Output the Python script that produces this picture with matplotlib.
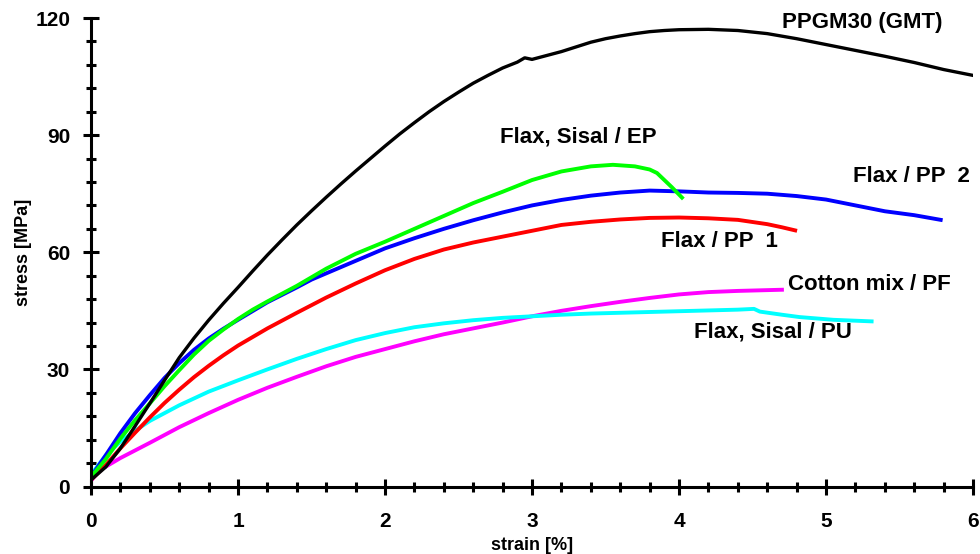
import numpy as np
import matplotlib.pyplot as plt
from matplotlib.ticker import MultipleLocator

plt.rcParams['font.family'] = ['Liberation Sans', 'DejaVu Sans']
plt.rcParams['font.weight'] = 'bold'

# --------- 資料 ---------
ppgm_x = [0.0, 0.1, 0.2, 0.3, 0.4, 0.5, 0.6, 0.7, 0.8, 0.9, 1.0, 1.1, 1.2, 1.3, 1.4, 1.5, 1.6, 1.7, 1.8, 1.9,
          2.0, 2.1, 2.2, 2.3, 2.4, 2.5, 2.6, 2.7, 2.8, 2.9, 2.95, 3.0, 3.1, 3.2, 3.3, 3.4, 3.5, 3.6, 3.7, 3.8,
          3.9, 4.0, 4.2, 4.4, 4.6, 4.8, 5.0, 5.2, 5.4, 5.6, 5.8, 6.0]
ppgm_y = [1.7, 5.0, 9.8, 15.5, 21.3, 27.2, 33.0, 38.0, 42.6, 46.9, 51.0, 55.2, 59.3, 63.2, 67.0, 70.6, 74.1, 77.5, 80.8, 84.0,
          87.2, 90.3, 93.2, 96.0, 98.6, 101.0, 103.3, 105.3, 107.2, 108.7, 109.8, 109.4, 110.4, 111.4, 112.6, 113.8, 114.7, 115.4, 116.0, 116.5,
          116.8, 117.0, 117.1, 116.8, 116.0, 114.7, 113.2, 111.7, 110.2, 108.6, 106.8, 105.3]

ep_x = [0.0, 0.1, 0.2, 0.3, 0.4, 0.5, 0.6, 0.7, 0.8, 0.9, 1.0, 1.1, 1.2, 1.3, 1.4, 1.5, 1.6, 1.8, 2.0, 2.2,
        2.4, 2.6, 2.8, 3.0, 3.2, 3.4, 3.55, 3.7, 3.8, 3.85, 3.9, 3.95, 4.02]
ep_y = [2.5, 7.0, 12.3, 17.0, 21.3, 25.7, 29.8, 33.8, 37.3, 40.2, 42.9, 45.3, 47.4, 49.4, 51.4, 53.6, 55.8, 59.6, 62.7, 66.0,
        69.3, 72.6, 75.5, 78.5, 80.7, 82.0, 82.4, 82.0, 81.2, 80.3, 78.5, 76.7, 74.0]

pp2_x = [0.0, 0.1, 0.2, 0.3, 0.4, 0.5, 0.6, 0.7, 0.8, 0.9, 1.0, 1.2, 1.4, 1.5, 1.6, 1.8, 2.0, 2.2, 2.4, 2.6,
         2.8, 3.0, 3.2, 3.4, 3.6, 3.8, 4.0, 4.2, 4.4, 4.6, 4.8, 5.0, 5.2, 5.4, 5.6, 5.78]
pp2_y = [2.5, 8.0, 13.7, 18.8, 23.4, 27.8, 31.6, 35.0, 37.9, 40.4, 42.7, 47.2, 51.0, 53.0, 54.6, 57.8, 61.0, 63.6, 66.0, 68.2,
         70.2, 72.0, 73.4, 74.5, 75.3, 75.8, 75.6, 75.3, 75.2, 75.0, 74.4, 73.5, 72.0, 70.5, 69.5, 68.3]

pp1_x = [0.0, 0.1, 0.2, 0.3, 0.4, 0.5, 0.6, 0.7, 0.8, 0.9, 1.0, 1.2, 1.4, 1.6, 1.8, 2.0, 2.2, 2.4, 2.6, 2.8,
         3.0, 3.2, 3.4, 3.6, 3.8, 4.0, 4.2, 4.4, 4.6, 4.7, 4.79]
pp1_y = [1.7, 5.5, 9.8, 13.8, 17.7, 21.4, 24.8, 28.0, 30.9, 33.6, 36.1, 40.5, 44.5, 48.4, 52.0, 55.4, 58.3, 60.7, 62.5, 64.0,
         65.5, 67.0, 67.8, 68.4, 68.8, 68.9, 68.7, 68.3, 67.2, 66.4, 65.6]

pu_x = [0.0, 0.1, 0.2, 0.3, 0.4, 0.6, 0.8, 1.0, 1.2, 1.4, 1.6, 1.8, 2.0, 2.2, 2.4, 2.6, 2.8, 3.0, 3.2, 3.4,
        3.6, 3.8, 4.0, 4.2, 4.4, 4.51, 4.55, 4.7, 4.82, 5.05, 5.31]
pu_y = [3.0, 8.0, 11.5, 14.3, 16.8, 20.8, 24.3, 27.2, 30.0, 32.7, 35.2, 37.5, 39.3, 40.8, 41.8, 42.6, 43.2, 43.6, 44.0, 44.3,
        44.5, 44.7, 44.9, 45.1, 45.3, 45.5, 44.8, 44.0, 43.4, 42.7, 42.3]

pf_x = [0.0, 0.06, 0.2, 0.4, 0.6, 0.8, 1.0, 1.2, 1.4, 1.6, 1.8, 2.0, 2.2, 2.4, 2.6, 2.8, 3.0, 3.2, 3.4, 3.6,
        3.8, 4.0, 4.2, 4.4, 4.6, 4.7]
pf_y = [1.5, 4.2, 7.3, 11.2, 15.2, 18.8, 22.2, 25.3, 28.1, 30.8, 33.2, 35.2, 37.2, 39.0, 40.5, 42.0, 43.6, 45.0, 46.2, 47.3,
        48.3, 49.2, 49.8, 50.1, 50.3, 50.4]

labels = ["PPGM30 (GMT)", "Flax, Sisal / EP", "Flax / PP  2", "Flax / PP  1", "Cotton mix / PF", "Flax, Sisal / PU"]
label_x = [4.70, 2.78, 5.18, 3.88, 4.74, 4.10]
label_y = [118.8, 89.4, 79.4, 62.8, 51.7, 39.7]

# --------- 畫圖 ---------
fig = plt.figure(figsize=(9.8, 5.54), dpi=100)
ax = fig.add_axes([0.0929, 0.1218, 0.9, 0.8457])

lw = 2.8
ax.plot(pf_x, pf_y, color="#ff00ff", lw=lw)
ax.plot(pu_x, pu_y, color="#00ffff", lw=lw)
ax.plot(pp1_x, pp1_y, color="#ff0000", lw=lw)
ax.plot(pp2_x, pp2_y, color="#0000ff", lw=lw)
ax.plot(ep_x, ep_y, color="#00ff00", lw=lw)
ax.plot(ppgm_x, ppgm_y, color="black", lw=2.4)

for t, x, y in zip(labels, label_x, label_y):
    ax.text(x, y, t, fontsize=16, fontweight="bold", ha="left", va="center")

ax.set_xlim(0, 6)
ax.set_ylim(0, 120)
ax.xaxis.set_major_locator(MultipleLocator(1))
ax.xaxis.set_minor_locator(MultipleLocator(0.2))
ax.yaxis.set_major_locator(MultipleLocator(30))
ax.yaxis.set_minor_locator(MultipleLocator(6))

for s in ["top", "right"]:
    ax.spines[s].set_visible(False)
for s in ["left", "bottom"]:
    ax.spines[s].set_linewidth(2.2)

ax.tick_params(which="major", direction="inout", length=12, width=2.2, labelsize=15)
ax.tick_params(which="minor", direction="inout", length=7, width=2.2)
ax.tick_params(axis="x", which="major", pad=12)
ax.tick_params(axis="y", which="major", pad=9)
for lab in ax.get_xticklabels() + ax.get_yticklabels():
    lab.set_fontweight("bold")

ax.set_xlabel("strain [%]", fontsize=13, fontweight="bold", labelpad=5)
ax.set_ylabel("stress [MPa]", fontsize=13, fontweight="bold", labelpad=2)

fig.savefig("out.png", dpi=100)
